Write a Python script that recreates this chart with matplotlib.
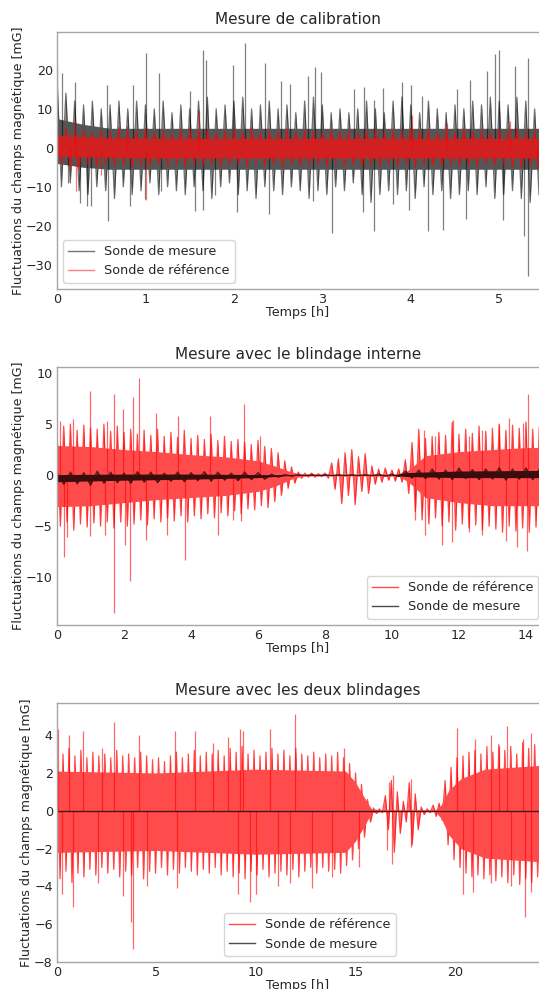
import matplotlib
matplotlib.use('Agg')
import matplotlib.pyplot as plt
from matplotlib.lines import Line2D
import numpy as np

plt.rcParams.update({
    'font.family': ['DejaVu Sans'],
    'font.size': 9.2,
    'axes.edgecolor': '0.65',
    'axes.linewidth': 1.0,
    'text.color': '0.15',
    'axes.labelcolor': '0.15',
    'xtick.color': '0.15',
    'ytick.color': '0.15',
    'xtick.major.size': 0,
    'ytick.major.size': 0,
    'legend.edgecolor': '0.8',
})

# ---------- panel 1 : calibration (t in h, values in mG) ----------
cal_step = 0.1
cal_meas_hi = [18, 14, 12, 11, 12, 10, 11, 12, 10, 12, 11, 10, 12, 9, 11, 10, 12, 13, 10, 11,
               12, 13, 10, 11, 12, 10, 11, 9, 12, 13, 11, 9, 10, 9, 10, 12, 10, 9, 12, 13,
               11, 9, 12, 10, 9, 11, 10, 12, 11, 13, 12, 11, 13, 12, 10]
cal_meas_lo = [-10, -9, -11, -12, -10, -11, -13, -10, -12, -11, -9, -12, -10, -11, -12, -10, -11, -13, -10, -9,
               -12, -11, -13, -10, -11, -12, -10, -11, -13, -11, -12, -10, -11, -9, -12, -14, -12, -11, -12, -11,
               -13, -10, -12, -11, -13, -12, -11, -12, -10, -13, -12, -11, -13, -14, -12]
cal_meas_band_t = [0, 0.3, 0.6, 5.45]
cal_meas_core_hi = [7.5, 6.0, 5.0, 5.0]
cal_meas_core_lo = [-4.0, -5.0, -5.5, -5.5]
cal_meas_spk_t = [0.0, 0.06, 0.2, 0.57, 0.86, 1.01, 1.15, 1.5, 1.65, 1.69, 1.99, 2.13, 2.35, 2.53, 2.64,
                  2.84, 2.92, 2.98, 3.36, 3.47, 3.58, 3.69, 3.9, 4.0, 4.13, 4.52, 4.67, 4.86, 4.95, 5.0,
                  5.18, 5.32,
                  0.13, 0.26, 0.34, 0.39, 0.58, 0.83, 1.0, 1.18, 1.56, 1.65, 1.79, 2.03, 2.4, 2.9, 3.11,
                  3.46, 3.58, 3.8, 3.98, 4.2, 4.36, 4.63, 5.04, 5.28, 5.33]
cal_meas_spk_v = [21, 19.2, 17, 16.2, 16, 24.4, 19.2, 14.5, 25.2, 22.6, 21.2, 26.9, 21.8, 17.2, 16.3,
                  18.4, 20.8, 19.5, 15, 15.7, 12.3, 15.4, 17, 16.2, 13.3, 15, 17.5, 19.8, 24.1, 25.2,
                  21, 23.1,
                  -9, -14.1, -15, -15, -18.8, -15, -13.2, -11, -16.2, -16, -12, -16.4, -16.9, -13.6, -21.8,
                  -16.5, -21.4, -14.4, -16, -21.3, -21.2, -18.3, -18.6, -22.6, -32.9]

cal_ref_hi = [4.5, 5.0, 4.2, 4.8, 3.9, 4.6, 4.3, 5.2, 4.0, 4.5, 4.8, 4.1, 4.4, 3.9, 4.7, 5.0, 4.2, 4.6, 4.0, 4.4,
              4.9, 4.3, 5.1, 4.0, 4.5, 4.2, 4.8, 4.1, 4.6, 4.3, 4.0, 4.7, 4.2, 4.5, 3.9, 4.4, 4.8, 4.1, 4.6, 4.3,
              5.0, 4.4, 4.7, 4.0, 4.5, 4.2, 4.9, 4.3, 4.6, 4.1, 4.8, 4.4, 5.0, 4.2, 4.6]
cal_ref_lo = [-4.0, -4.5, -5.5, -4.2, -4.8, -4.1, -4.6, -4.3, -5.0, -4.4, -4.7, -4.0, -4.5, -4.2, -4.9, -4.3, -4.6, -4.1, -4.8, -4.4,
              -4.2, -4.7, -4.0, -4.5, -4.3, -4.9, -4.1, -4.6, -4.4, -4.2, -4.8, -4.0, -4.5, -4.3, -4.7, -4.4, -4.9, -4.2, -4.6, -4.1,
              -4.8, -4.3, -4.5, -4.7, -4.2, -4.6, -4.4, -4.9, -4.1, -4.5, -4.3, -4.8, -5.0, -4.4, -4.6]
cal_ref_band_t = [0, 0.5, 1.0, 5.45]
cal_ref_core_hi = [3.2, 2.6, 2.4, 2.4]
cal_ref_core_lo = [-2.1, -2.4, -2.6, -2.6]
cal_ref_spk_t = [0.22, 1.01, 1.6, 0.2, 0.79, 4.01, 4.41, 5.12, 5.43, 0.5, 0.15]
cal_ref_spk_v = [-11.2, -13.3, 9.7, 7.2, 5.5, 8.5, 6.4, 7.0, -5.2, -7.0, -6.0]

# ---------- panel 2 : blindage interne ----------
int_step = 0.2
int_ref_hi = [4.6, 4.8, 5.0, 4.4, 4.9, 4.6, 4.5, 5.0, 4.3, 4.8, 4.2, 4.5, 4.0, 4.4, 3.9, 4.5, 3.8, 4.2, 3.7, 4.4,
              3.6, 3.9, 3.5, 4.0, 3.4, 3.8, 3.3, 3.5, 3.2, 3.0, 3.4, 2.8, 2.6, 2.2, 1.4, 0.8, 0.3, 0.2, 0.2, 0.15,
              0.2, 1.2, 1.6, 2.2, 2.5, 1.8, 2.1, 0.9, 0.6, 0.7, 0.5, 0.6, 1.5, 3.2, 4.5, 3.6, 3.8, 4.2, 3.9, 5.2,
              4.0, 4.5, 4.1, 4.8, 4.3, 4.6, 5.0, 4.4, 4.9, 4.6, 5.2, 4.5, 4.8]
int_ref_lo = [-5.0, -4.6, -5.4, -4.8, -5.1, -4.7, -5.0, -4.6, -5.2, -4.6, -5.0, -4.8, -4.4, -4.9, -4.3, -4.6, -4.2, -4.5, -4.0, -4.6,
              -4.0, -4.3, -3.8, -4.2, -3.7, -4.0, -3.5, -3.8, -3.3, -3.4, -3.0, -3.2, -2.6, -2.0, -1.3, -0.8, -0.3, -0.2, -0.2, -0.15,
              -0.3, -1.4, -2.8, -2.0, -2.9, -1.6, -1.8, -0.9, -0.7, -0.5, -0.6, -0.7, -1.8, -3.6, -4.4, -4.8, -4.2, -5.0, -4.6, -5.4,
              -4.8, -5.2, -4.9, -5.4, -5.0, -5.3, -5.6, -5.0, -5.5, -5.2, -5.6, -5.1, -5.3]
int_ref_band_t = [0, 1, 2, 3, 4, 5, 6, 6.5, 7.0, 7.3, 8.0, 10.2, 10.5, 11, 12, 13, 14, 14.4]
int_ref_core_hi = [2.9, 2.8, 2.5, 2.3, 2.0, 1.8, 1.4, 0.9, 0.3, 0.1, 0.08, 0.1, 0.5, 1.9, 2.3, 2.5, 2.7, 2.7]
int_ref_core_lo = [-3.1, -3.0, -2.7, -2.4, -2.2, -2.0, -1.6, -1.1, -0.4, -0.1, -0.08, -0.1, -0.7, -2.2, -2.7, -3.0, -3.0, -3.0]
int_ref_spk_t = [0.1, 0.47, 1.0, 1.48, 1.71, 1.96, 2.26, 2.46, 2.96, 3.62, 4.57, 5.59, 6.06, 10.96, 11.3,
                 11.81, 12.3, 12.7, 13.2, 13.5, 13.9, 14.07,
                 0.22, 0.3, 0.99, 1.43, 1.71, 2.03, 2.18, 2.67, 3.27, 3.82, 4.8, 5.24, 5.5, 10.69, 11.0,
                 11.48, 11.78, 12.3, 12.7, 13.4, 13.72, 14.02]
int_ref_spk_v = [5.3, 5.5, 8.2, 5.3, 8.0, 6.5, 7.7, 9.5, 6.1, 5.8, 5.8, 7.0, 3.8, 4.4, 3.8,
                 5.4, 3.8, 4.4, 4.9, 5.6, 5.1, 8.0,
                 -8.0, -6.1, -6.0, -5.9, -13.5, -6.9, -10.4, -6.4, -5.9, -8.3, -5.9, -4.4, -4.5, -4.4, -5.9,
                 -6.9, -6.6, -5.6, -5.9, -6.5, -7.1, -7.4]
int_meas_step = 0.4
int_meas_hi = [0.2, 0.3, 0.25, 0.4, 0.3, 0.2, 0.35, 0.3, 0.2, 0.3, 0.25, 0.35, 0.3, 0.2, 0.3, 0.25, 0.1, 0.05, 0.05,
               0.05, 0.05, 0.05, 0.05, 0.05, 0.1, 0.1, 0.4, 0.5, 0.6, 0.5, 0.7, 0.55, 0.6, 0.75, 0.6, 0.7, 0.6]
int_meas_lo = [-0.9, -0.85, -1.0, -0.8, -0.75, -0.8, -0.7, -0.75, -0.6, -0.65, -0.55, -0.6, -0.5, -0.55, -0.45, -0.4, -0.2,
               -0.1, -0.05, -0.05, -0.05, -0.05, -0.05, -0.05, -0.1, -0.15, -0.3, -0.35, -0.4, -0.45, -0.35, -0.45, -0.4,
               -0.5, -0.4, -0.45, -0.4]
int_meas_band_t = [0, 2, 4, 6, 7, 10, 10.5, 12, 14, 14.4]
int_meas_core_hi = [0.05, 0.1, 0.1, 0.05, 0.03, 0.03, 0.25, 0.4, 0.45, 0.45]
int_meas_core_lo = [-0.65, -0.5, -0.4, -0.25, -0.03, -0.03, -0.15, -0.25, -0.25, -0.25]

# ---------- panel 3 : deux blindages ----------
dbl_step = 0.3
dbl_ref_hi = [3.4, 3.0, 3.3, 2.9, 3.2, 2.8, 3.1, 2.9, 3.0, 2.8, 3.2, 2.9, 3.0, 2.8, 3.1, 2.9, 2.7, 2.8, 2.6, 2.9,
              3.1, 2.8, 3.0, 3.2, 2.9, 3.1, 3.0, 3.2, 2.9, 3.3, 3.1, 3.4, 3.0, 3.2, 2.9, 3.1, 3.3, 3.0, 3.2, 2.9,
              3.3, 3.0, 2.9, 3.1, 2.8, 3.0, 2.9, 3.1, 2.8, 2.5, 2.0, 1.4, 0.6, 0.15, 0.1, 0.8, 1.6, 1.0, 0.5, 1.5,
              0.9, 0.2, 0.1, 0.3, 0.4, 1.6, 2.3, 2.8, 2.9, 3.1, 3.2, 3.0, 3.4, 3.1, 3.5, 3.2, 3.4, 3.0, 3.6, 3.3,
              3.5, 3.2]
dbl_ref_lo = [-3.6, -3.2, -3.8, -3.3, -3.5, -3.1, -3.4, -3.0, -3.3, -3.1, -3.5, -3.2, -3.4, -3.0, -3.6, -3.2, -3.3, -3.0, -3.4, -3.1,
              -3.3, -3.0, -3.2, -3.4, -3.1, -3.3, -3.0, -3.4, -3.2, -3.5, -3.3, -3.6, -3.2, -3.4, -3.1, -3.5, -3.3, -3.2, -3.4, -3.1,
              -3.5, -3.2, -3.0, -3.3, -3.0, -3.2, -3.1, -3.3, -2.9, -2.6, -2.0, -1.4, -0.6, -0.15, -0.1, -1.0, -2.2, -1.2, -0.6, -1.8,
              -1.0, -0.2, -0.1, -0.3, -0.5, -1.8, -2.6, -3.0, -3.3, -3.5, -3.4, -3.6, -3.4, -3.7, -3.5, -3.8, -3.4, -3.9, -3.6, -3.8,
              -3.5, -3.7]
dbl_ref_band_t = [0, 5, 10, 14.5, 15.0, 15.5, 15.8, 16.3, 19.0, 19.3, 19.7, 20.3, 21.5, 24.3]
dbl_ref_core_hi = [2.1, 2.0, 2.2, 2.1, 1.5, 0.6, 0.1, 0.05, 0.05, 0.3, 1.1, 1.7, 2.2, 2.4]
dbl_ref_core_lo = [-2.2, -2.1, -2.3, -2.2, -1.6, -0.7, -0.1, -0.05, -0.05, -0.4, -1.3, -2.0, -2.5, -2.7]
dbl_ref_spk_t = [0.07, 0.6, 1.32, 2.25, 2.88, 4.14, 5.93, 6.93, 7.86, 8.6, 9.2, 9.35, 10.7, 11.96, 14.4,
                 16.7, 16.9, 17.8, 20.1, 21.0, 21.8, 22.2, 22.6, 23.4, 23.8,
                 0.24, 0.82, 2.04, 3.33, 3.7, 3.83, 4.5, 6.01, 9.11, 9.7, 10.0, 11.09, 11.7, 12.8, 13.8,
                 15.2, 16.6, 16.85, 17.8, 20.4, 20.9, 21.8, 22.8, 23.5, 23.8]
dbl_ref_spk_v = [4.3, 4.0, 4.2, 3.3, 4.7, 4.0, 4.2, 4.2, 3.6, 3.9, 4.3, 4.2, 4.3, 5.1, 3.3,
                 1.5, 1.9, 1.7, 4.4, 3.8, 4.0, 3.4, 4.5, 3.8, 4.1,
                 -4.4, -5.1, -3.8, -4.5, -5.9, -7.3, -4.0, -4.1, -4.4, -4.8, -4.4, -4.0, -3.8, -4.1, -3.5,
                 -3.0, -2.1, -2.8, -1.9, -4.4, -4.3, -3.8, -4.0, -5.6, -4.3]
dbl_meas_t = [0, 24.3]
dbl_meas_v = [0.0, 0.0]

ylab = 'Fluctuations du champs magnétique [mG]'


def noise(ax, step, hi, lo, color, alpha, z):
    # trace through the read peaks (up at t, down half a step later)
    n = min(len(hi), len(lo))
    t = np.arange(n) * step
    x = np.empty(2 * n)
    y = np.empty(2 * n)
    x[0::2] = t
    x[1::2] = t + step / 2
    y[0::2] = hi[:n]
    y[1::2] = lo[:n]
    ax.fill_between(x, 0, y, color=color, alpha=alpha * 0.8, lw=0, zorder=z)
    ax.plot(x, y, color=color, alpha=alpha, lw=0.9, zorder=z + 0.1)


def core(ax, t, lo, hi, color, z):
    ax.fill_between(t, lo, hi, color=color, lw=0, zorder=z + 0.2)


def style(ax, title, xmax, ylim):
    ax.set_title(title, fontsize=11)
    ax.set_xlabel('Temps [h]', labelpad=0)
    ax.set_ylabel(ylab, fontsize=9.1, labelpad=1)
    ax.set_xlim(0, xmax)
    ax.set_ylim(*ylim)
    ax.spines['right'].set_visible(False)
    ax.tick_params(pad=3)


fig = plt.figure(figsize=(5.39, 9.89), dpi=100)

meas_h = Line2D([], [], color='k', alpha=0.55, lw=1)
ref1_h = Line2D([], [], color='red', alpha=0.5, lw=1)
ref_h = Line2D([], [], color='red', alpha=0.7, lw=1)
meas2_h = Line2D([], [], color='k', alpha=0.7, lw=1)

# panel 1
ax1 = fig.add_axes([0.10575, 0.70779, 0.89425, 0.25986])
noise(ax1, cal_step, cal_meas_hi, cal_meas_lo, 'k', 0.55, 1)
core(ax1, cal_meas_band_t, cal_meas_core_lo, cal_meas_core_hi, '#555555', 1)
ax1.vlines(cal_meas_spk_t, 0, cal_meas_spk_v, color='k', alpha=0.5, lw=0.9, zorder=1.3)
noise(ax1, cal_step, cal_ref_hi, cal_ref_lo, 'red', 0.6, 2)
core(ax1, cal_ref_band_t, cal_ref_core_lo, cal_ref_core_hi, '#d21f1f', 2)
ax1.vlines(cal_ref_spk_t, 0, cal_ref_spk_v, color='red', alpha=0.55, lw=0.9, zorder=2.3)
style(ax1, 'Mesure de calibration', 5.45, (-36.2, 29.7))
ax1.set_yticks([-30, -20, -10, 0, 10, 20])
ax1.legend([meas_h, ref1_h], ['Sonde de mesure', 'Sonde de référence'], loc='lower left')

# panel 2
ax2 = fig.add_axes([0.10575, 0.36805, 0.89425, 0.26087])
noise(ax2, int_step, int_ref_hi, int_ref_lo, 'red', 0.7, 1)
core(ax2, int_ref_band_t, int_ref_core_lo, int_ref_core_hi, '#ff4b4b', 1)
ax2.vlines(int_ref_spk_t, 0, int_ref_spk_v, color='red', alpha=0.6, lw=0.9, zorder=1.3)
noise(ax2, int_meas_step, int_meas_hi, int_meas_lo, 'k', 0.6, 2)
core(ax2, int_meas_band_t, int_meas_core_lo, int_meas_core_hi, '#3a0d0d', 2)
style(ax2, 'Mesure avec le blindage interne', 14.39, (-14.7, 10.6))
ax2.set_xticks([0, 2, 4, 6, 8, 10, 12, 14])
ax2.legend([ref_h, meas2_h], ['Sonde de référence', 'Sonde de mesure'],
           loc='lower right', bbox_to_anchor=(1.012, 0))

# panel 3
ax3 = fig.add_axes([0.10575, 0.02730, 0.89425, 0.26188])
noise(ax3, dbl_step, dbl_ref_hi, dbl_ref_lo, 'red', 0.7, 1)
core(ax3, dbl_ref_band_t, dbl_ref_core_lo, dbl_ref_core_hi, '#ff4b4b', 1)
ax3.vlines(dbl_ref_spk_t, 0, dbl_ref_spk_v, color='red', alpha=0.6, lw=0.9, zorder=1.3)
ax3.plot(dbl_meas_t, dbl_meas_v, color='k', alpha=0.7, lw=1.0, zorder=2)
style(ax3, 'Mesure avec les deux blindages', 24.22, (-8, 5.7))
ax3.set_xticks([0, 5, 10, 15, 20])
ax3.legend([ref_h, meas2_h], ['Sonde de référence', 'Sonde de mesure'],
           loc='lower center', bbox_to_anchor=(0.525, 0))

fig.savefig('out.png', dpi=100)
